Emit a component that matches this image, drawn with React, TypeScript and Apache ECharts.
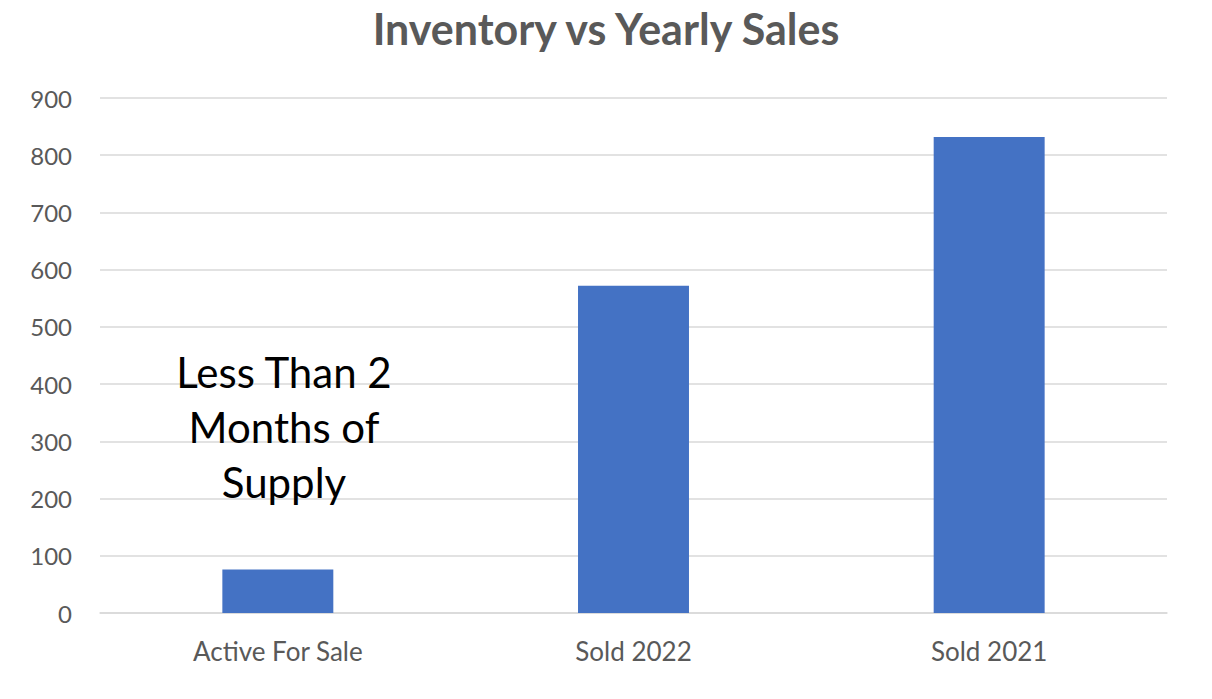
import React, { useEffect, useRef } from "react";
import * as echarts from "echarts";

const categories = ["Active For Sale", "Sold 2022", "Sold 2021"];
const values = [76, 572, 832];
const yTicks = [0, 100, 200, 300, 400, 500, 600, 700, 800, 900];
const titleText = "Inventory vs Yearly Sales";
const annotationText = "Less Than 2\nMonths of\nSupply";

export default function App() {
  const ref = useRef<HTMLDivElement>(null);
  useEffect(() => {
    if (!ref.current) return;
    const chart = echarts.init(ref.current, null, { renderer: "svg" });
    chart.setOption({
      animation: false,
      backgroundColor: "#ffffff",
      title: {
        text: titleText,
        left: "center",
        top: 6,
        padding: 0,
        textStyle: {
          fontFamily: "Lato",
          fontWeight: "bold",
          fontSize: 43,
          lineHeight: 44,
          color: "#595959",
        },
      },
      grid: { left: 100, right: 45, top: 98, bottom: 86, containLabel: false },
      xAxis: {
        type: "category",
        data: categories,
        axisLine: { show: true, lineStyle: { color: "#d9d9d9", width: 1.5 } },
        axisTick: { show: false },
        axisLabel: {
          margin: 25,
          fontFamily: "Lato",
          fontSize: 26,
          color: "#595959",
        },
      },
      yAxis: {
        type: "value",
        min: yTicks[0],
        max: yTicks[yTicks.length - 1],
        interval: 100,
        axisLine: { show: false },
        axisTick: { show: false },
        splitLine: { lineStyle: { color: "#d9d9d9", width: 1.5 } },
        axisLabel: {
          margin: 28,
          fontFamily: "Lato",
          fontSize: 24,
          color: "#595959",
        },
      },
      series: [
        {
          type: "bar",
          data: values,
          barWidth: "31.2%",
          itemStyle: { color: "#4472c4" },
        },
      ],
      graphic: [
        {
          type: "text",
          x: 284,
          y: 427,
          z: 100,
          style: {
            text: annotationText,
            fontFamily: "Lato",
            fontSize: 42,
            lineHeight: 55,
            fill: "#000000",
            stroke: "none",
            lineWidth: 0,
            align: "center",
            verticalAlign: "middle",
          },
        },
      ],
    });
    return () => chart.dispose();
  }, []);
  return <div ref={ref} style={{ width: 1212, height: 699, margin: -8 }} />;
}
